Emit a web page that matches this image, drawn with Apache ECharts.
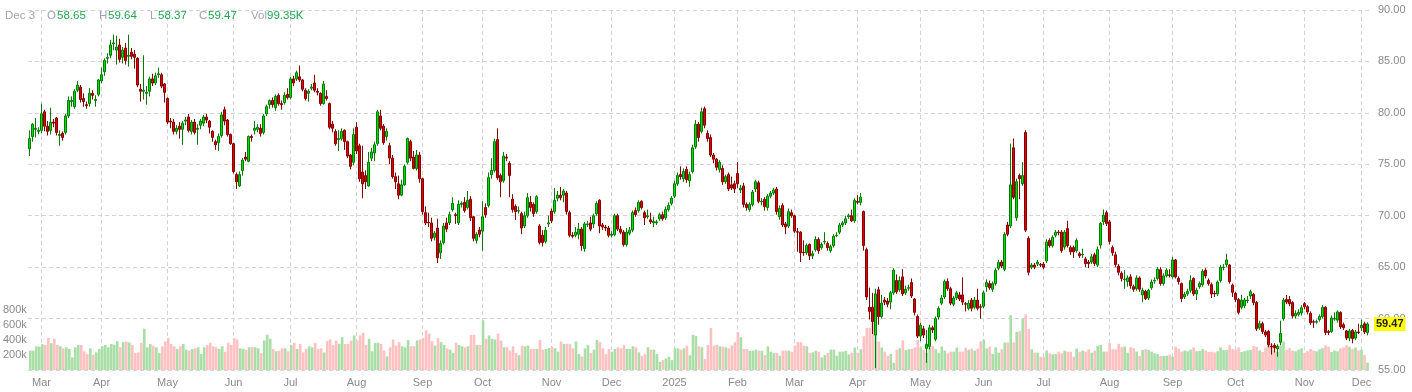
<!DOCTYPE html>
<html>
<head>
<meta charset="utf-8">
<script src="https://cdn.jsdelivr.net/npm/echarts@6/dist/echarts.min.js"></script>
<style>
html,body{margin:0;padding:0;background:#fff;}
#chart{width:1412px;height:392px;}
</style>
</head>
<body>
<div id="chart"></div>
<script>
// ---- categories: trading days (weekdays minus exchange holidays) ----
const START_DATE = '2024-02-26';
const END_DATE = '2025-12-03';
const HOLIDAYS = ['2024-03-29','2024-05-27','2024-06-19','2024-07-04','2024-09-02','2024-11-28','2024-12-25',
  '2025-01-01','2025-01-20','2025-02-17','2025-04-18','2025-05-26','2025-06-19','2025-07-04','2025-09-01','2025-11-27'];
const MONTHS = ['Jan','Feb','Mar','Apr','May','Jun','Jul','Aug','Sep','Oct','Nov','Dec'];
const PRICE_TICKS = {min: 55, max: 90, step: 5};
const VOL_TICKS = {min: 0, max: 800, step: 200}; // thousands

// ---- candles: [open, close, low, high] ----
const candles = [
[76.5,77.5,75.8,78.3],[77.7,78.9,77.2,79.0],[78.4,78.5,77.6,79.5],[78.2,78.3,77.9,78.6],[78.3,79.9,78.0,80.9],
[80.1,78.7,78.2,80.3],[78.7,78.2,77.8,79.2],[78.3,79.1,77.9,80.5],[79.1,79.0,78.6,79.4],[79.5,78.1,77.8,79.6],
[77.8,77.9,76.8,78.3],[78.0,77.6,77.3,78.2],[78.1,79.7,77.9,79.9],[79.7,81.2,79.5,81.6],[81.1,81.2,80.6,81.6],
[80.6,82.1,80.4,82.3],[82.2,82.7,82.0,83.1],[82.5,81.3,81.0,82.7],[81.4,81.1,80.6,81.9],[80.8,80.7,80.4,81.1],
[80.9,81.9,80.6,82.4],[81.9,81.7,81.3,82.2],[81.2,81.3,80.6,81.7],[81.8,83.2,81.6,83.3],[83.1,83.7,82.9,84.4],
[84.0,85.1,83.6,85.3],[85.3,85.4,84.8,85.8],[85.6,86.6,85.3,87.1],[86.7,86.8,86.1,87.6],[86.1,86.4,84.7,87.5],
[86.6,85.2,84.9,87.2],[85.4,86.1,84.8,86.4],[86.3,85.1,84.7,86.8],[85.5,85.6,84.5,87.6],[85.9,85.5,85.2,86.3],
[85.7,85.4,84.3,86.1],[85.3,82.7,82.5,85.4],[82.3,82.1,81.1,82.8],[82.1,82.2,81.3,85.6],[81.9,82.0,80.8,82.6],
[82.1,83.3,81.6,83.5],[83.3,82.9,82.6,83.8],[82.9,83.6,82.7,83.9],[83.7,83.8,83.4,84.4],[83.7,82.6,82.4,83.9],
[82.8,82.0,81.0,82.9],[81.4,79.1,78.9,81.5],[79.2,79.1,78.5,79.5],[79.1,78.2,77.9,79.4],[78.2,78.5,77.9,78.8],
[78.7,78.4,77.5,79.1],[78.4,79.0,76.9,79.2],[79.2,79.3,78.8,79.6],[79.6,78.3,78.1,79.9],[78.2,79.1,77.9,79.3],
[79.1,78.1,77.9,79.4],[78.4,78.5,76.9,78.9],[78.8,79.2,78.4,79.4],[79.0,79.6,78.7,79.8],[79.6,79.3,79.0,79.9],
[79.2,78.6,78.0,79.3],[78.2,77.6,77.2,78.3],[77.2,76.9,76.4,77.4],[77.1,77.7,76.3,78.0],[77.8,79.8,77.6,80.1],
[80.3,79.2,78.8,80.6],[79.3,77.9,77.7,79.4],[77.9,77.0,76.9,78.0],[77.0,74.3,74.1,77.1],[74.0,73.3,72.6,74.2],
[72.9,74.0,72.8,74.3],[74.4,75.4,73.9,75.6],[75.7,75.5,75.3,76.2],[75.3,77.7,75.2,77.8],[77.7,77.6,77.2,77.9],
[78.3,78.5,77.9,79.2],[78.4,78.6,78.1,78.9],[78.5,78.0,77.7,78.9],[78.1,79.7,77.9,79.9],[79.9,80.6,79.7,80.8],
[80.8,81.2,80.4,81.3],[81.2,80.8,80.5,81.5],[80.5,81.6,80.2,81.8],[81.7,80.9,80.7,81.9],[80.9,80.8,80.3,81.2],
[81.0,81.7,80.8,82.0],[81.8,81.5,81.3,82.4],[81.5,83.3,81.3,83.5],[83.3,82.9,82.6,83.6],[83.3,83.9,83.1,84.1],
[83.5,83.2,83.0,84.6],[83.2,82.3,82.1,83.3],[82.2,81.4,81.2,82.4],[81.9,82.1,81.1,82.3],[82.4,82.5,82.2,82.8],
[82.9,82.2,82.0,83.7],[82.1,82.0,81.7,82.4],[81.9,80.9,80.7,82.0],[80.9,82.8,80.8,83.1],[81.6,81.4,81.2,82.2],
[80.9,78.6,78.4,81.0],[78.9,78.5,78.1,79.2],[78.2,77.0,76.8,78.4],[77.4,77.5,76.3,78.3],[77.5,78.2,77.3,78.5],
[78.3,77.2,76.4,78.4],[77.2,75.8,75.6,77.3],[75.9,74.8,74.5,76.0],[75.2,77.9,74.9,78.5],[78.6,76.3,76.0,79.1],
[76.8,73.6,73.3,77.0],[74.25,73.1,71.7,76.8],[73.9,73.3,72.6,74.4],[72.9,75.2,72.8,76.2],[75.6,76.2,75.3,76.6],
[76.1,76.9,75.3,77.2],[77.0,80.1,76.8,80.3],[79.7,78.5,78.3,80.3],[78.7,77.1,76.9,78.9],[77.7,78.2,77.3,78.5],
[76.8,75.6,75.0,77.1],[75.6,73.8,73.6,75.9],[73.8,73.3,72.6,74.2],[73.1,72.0,71.6,73.9],[72.0,73.0,71.9,73.5],
[73.0,74.8,72.9,75.0],[75.2,77.5,75.0,77.6],[77.2,75.6,75.3,77.4],[75.7,74.6,74.5,76.3],[74.6,75.9,74.4,76.4],
[75.9,73.6,73.2,76.2],[73.6,70.4,70.1,73.7],[70.3,69.3,69.1,70.9],[69.35,69.3,68.9,70.3],[69.3,67.8,67.5,69.8],
[67.9,68.3,67.6,68.5],[68.8,65.9,65.4,69.7],[66.4,67.3,65.8,67.6],[67.4,69.0,67.2,69.3],[69.3,68.7,68.4,69.8],
[69.3,70.1,69.1,70.4],[70.6,71.2,70.4,71.8],[70.1,70.0,69.2,70.3],[69.3,71.1,69.1,71.5],[71.1,71.2,70.8,71.4],
[71.3,70.5,70.3,71.8],[70.8,71.5,70.6,72.4],[71.6,69.8,69.5,71.9],[69.9,67.8,67.5,70.0],[67.6,68.2,67.3,68.4],
[68.6,68.2,67.9,68.9],[68.5,69.9,66.6,71.4],[70.8,70.1,69.8,71.2],[71.0,73.7,70.8,74.2],[74.0,74.4,73.6,75.6],
[74.4,77.2,74.2,77.5],[77.4,73.7,73.5,78.5],[73.9,73.3,71.8,74.1],[73.4,75.8,73.2,76.2],[75.7,75.6,75.3,76.0],
[75.1,73.9,71.8,75.3],[71.6,70.6,70.3,72.1],[70.9,70.4,69.6,71.1],[70.45,70.5,70.2,70.9],[70.2,68.8,68.2,70.4],
[69.0,70.0,68.8,70.4],[70.0,71.75,69.8,72.2],[71.3,70.8,70.4,71.9],[71.1,70.2,69.9,71.3],[70.4,71.85,70.2,72.0],
[69.0,67.4,67.2,69.2],[68.1,67.4,67.0,68.6],[67.5,68.6,67.3,68.9],[69.2,69.3,68.9,70.0],[70.45,69.5,69.3,70.7],
[70.4,71.5,70.2,72.7],[71.7,72.0,71.4,72.4],[72.0,71.75,71.5,72.8],[72.0,72.4,71.3,72.6],[72.2,70.4,70.1,72.4],
[70.3,68.1,67.9,70.5],[68.1,68.0,67.8,68.4],[68.1,68.4,67.9,68.9],[68.2,68.7,67.7,69.3],[68.7,67.1,66.6,68.9],
[66.8,69.2,66.5,69.4],[69.15,69.2,68.9,69.5],[69.3,68.7,68.5,69.9],[69.2,70.0,68.8,70.2],[70.2,71.2,70.0,71.4],
[71.5,69.0,68.3,71.6],[69.1,68.9,68.6,69.3],[68.9,68.8,68.5,69.1],[68.8,68.1,67.9,69.0],[68.1,68.2,67.9,68.5],
[68.15,70.0,68.0,70.2],[70.0,68.7,68.5,70.2],[68.7,68.4,68.2,69.0],[68.4,67.2,67.0,68.6],[67.2,68.4,67.0,68.8],
[68.3,68.6,68.1,68.9],[68.6,70.3,68.4,70.5],[70.5,70.1,69.9,70.8],[70.5,71.3,70.3,71.5],[71.4,70.8,70.6,71.5],
[70.3,69.8,69.1,70.5],[69.9,70.0,69.7,70.6],[69.6,69.4,69.2,70.3],[69.3,69.45,68.9,69.9],[69.3,69.4,69.1,69.6],
[69.7,70.1,69.5,70.3],[70.1,69.7,69.5,70.4],[69.8,70.6,69.6,70.9],[70.6,71.0,70.4,71.3],[71.2,71.7,71.0,71.9],
[71.9,73.1,71.7,73.4],[73.1,73.9,72.9,74.2],[74.0,73.8,73.5,74.8],[73.6,74.3,73.3,74.6],[74.5,73.5,73.2,74.8],
[73.4,74.0,72.8,74.3],[74.3,76.6,74.1,76.9],[76.7,78.9,76.5,79.3],[78.9,77.6,77.2,79.1],[78.2,80.1,78.0,80.5],
[80.4,78.8,78.5,80.6],[78.0,77.5,77.2,78.3],[77.6,75.9,75.7,77.9],[75.9,75.5,75.1,76.1],[75.5,74.7,74.4,75.6],
[74.5,75.2,74.2,75.4],[74.6,73.3,73.0,74.9],[73.3,73.8,73.1,74.0],[74.0,72.6,72.4,74.2],[73.0,72.7,72.5,73.8],
[73.1,72.6,72.2,73.4],[74.1,73.1,72.7,75.2],[72.5,72.7,72.2,73.0],[72.9,71.1,70.8,73.2],[71.1,70.8,70.5,71.3],
[70.6,71.1,70.4,71.3],[71.1,72.3,70.9,72.5],[72.6,73.3,72.3,73.5],[73.2,71.4,71.2,73.4],[71.35,71.4,71.0,71.7],
[71.6,70.9,70.5,71.8],[70.8,71.9,70.5,72.1],[71.9,72.2,71.7,72.4],[72.2,72.5,72.0,72.7],[72.6,70.4,70.1,72.8],
[69.9,70.7,69.6,71.0],[71.0,69.1,68.9,71.2],[69.2,68.9,68.2,69.4],[69.0,70.4,68.8,70.7],[70.3,70.0,69.8,70.6],
[70.0,68.5,68.3,70.1],[68.45,68.4,66.5,68.8],[68.4,66.4,65.5,68.5],[66.45,66.4,66.1,67.6],[66.4,67.1,66.2,67.3],
[67.2,66.1,65.7,67.3],[66.1,66.3,65.8,66.6],[66.7,67.7,66.5,68.0],[67.7,66.6,66.3,67.9],[66.9,67.2,66.7,67.4],
[67.45,67.5,67.2,68.4],[67.3,66.9,66.6,67.5],[66.6,67.0,66.4,67.2],[67.1,68.0,66.9,68.2],[68.05,68.1,67.9,68.4],
[68.4,69.1,68.2,69.3],[69.1,69.3,68.9,69.5],[69.3,69.7,69.1,70.0],[69.9,70.0,69.7,70.2],[70.0,69.5,69.4,70.6],
[69.5,71.5,69.3,71.7],[71.4,71.3,71.1,72.0],[71.3,71.8,71.0,72.2],[70.4,67.1,66.6,70.5],[66.7,62.1,61.8,66.9],
[61.1,60.7,59.9,63.0],[61.1,59.7,58.5,62.5],[58.4,62.4,55.2,62.9],[62.8,60.2,59.4,63.1],[60.2,61.5,60.0,62.3],
[61.8,61.6,61.3,62.1],[61.7,61.4,61.1,62.0],[61.6,62.5,60.9,62.7],[62.5,64.7,62.3,64.9],[63.7,62.6,62.4,64.3],
[62.8,63.7,62.6,64.1],[64.05,62.4,62.2,64.8],[62.5,62.85,62.3,63.2],[62.95,63.0,62.7,63.3],[63.5,62.2,62.0,63.9],
[61.9,60.6,60.3,62.0],[60.2,58.3,58.1,60.4],[58.3,59.35,57.8,59.6],[59.0,58.4,58.1,59.3],[57.1,57.5,55.7,58.9],
[57.3,59.1,57.0,59.4],[59.1,58.9,58.6,59.3],[58.0,60.0,57.8,60.2],[60.15,61.0,59.9,61.2],[61.5,62.0,61.3,62.3],
[62.1,63.6,61.9,63.8],[63.6,62.9,62.7,63.9],[62.9,61.5,61.3,63.1],[61.4,62.0,61.2,62.2],[62.0,62.5,61.8,62.7],
[62.3,61.9,61.7,62.6],[62.3,61.6,61.3,64.0],[61.45,61.4,60.7,61.6],[61.0,61.5,60.8,61.8],[61.8,61.0,60.7,62.0],
[61.1,61.8,60.9,62.1],[61.8,61.0,60.8,62.9],[61.15,61.1,60.0,61.4],[61.2,62.5,61.0,62.7],[63.1,63.5,62.6,63.8],
[63.4,63.0,62.8,63.7],[62.85,63.4,62.6,63.6],[63.4,64.7,63.2,64.9],[64.9,65.45,64.7,65.7],[65.5,65.1,64.9,65.7],
[64.8,68.2,64.6,68.4],[69.1,68.2,68.0,69.4],[69.0,73.0,68.8,77.0],[76.6,71.8,71.6,77.5],[69.8,73.3,69.5,73.6],
[73.9,73.6,71.6,74.1],[73.1,73.9,72.9,75.2],[78.1,68.6,68.4,78.3],[67.8,64.5,64.2,68.0],[65.0,65.2,64.8,65.4],
[65.2,65.0,64.8,65.4],[65.3,65.5,65.1,65.7],[65.25,65.2,65.0,65.4],[65.3,65.0,64.8,65.5],[65.6,67.45,65.4,67.7],
[67.6,67.1,66.9,67.8],[67.1,67.9,66.9,68.1],[68.1,68.4,67.9,68.6],[68.4,68.35,68.1,68.6],[68.4,66.6,66.4,68.6],
[66.95,68.4,66.7,68.6],[68.75,67.1,66.9,69.5],[66.9,66.5,66.2,67.1],[66.9,66.5,65.9,67.1],[66.6,67.6,66.4,67.8],
[66.3,66.1,65.9,66.5],[66.2,66.25,65.9,66.8],[65.8,65.35,65.0,66.0],[65.5,65.35,64.9,65.7],[65.5,66.0,65.3,66.3],
[66.2,65.35,65.1,66.4],[65.2,66.7,65.0,67.0],[67.15,69.25,66.8,69.4],[69.4,70.05,69.1,70.6],[70.3,69.25,69.0,70.5],
[69.4,67.5,67.2,69.6],[66.9,66.4,66.1,67.1],[66.2,65.25,65.0,66.5],[65.1,64.5,64.2,65.3],[64.4,63.9,63.6,64.6],
[63.8,63.85,62.9,64.7],[63.6,63.95,63.1,64.2],[64.05,63.2,62.9,64.3],[63.1,62.85,62.6,63.3],[62.9,63.95,62.7,64.2],
[63.95,62.85,62.6,64.1],[62.3,62.75,61.6,63.0],[62.65,61.95,61.8,62.8],[62.0,62.75,61.8,62.9],[63.0,63.55,62.8,63.8],
[63.65,63.7,63.4,64.0],[63.9,64.8,63.7,65.0],[64.75,63.4,63.2,65.0],[63.4,64.15,63.2,64.4],[64.15,64.7,64.0,64.9],
[64.25,64.2,64.0,64.8],[64.05,65.7,63.9,66.0],[65.7,64.05,63.9,65.8],[63.9,63.6,63.3,64.1],[63.4,61.95,61.6,63.5],
[62.1,62.35,61.9,62.6],[62.4,62.65,62.2,62.9],[62.75,63.7,62.5,64.2],[63.9,62.4,62.2,64.0],[62.4,62.75,61.8,63.0],
[63.1,63.4,62.9,63.6],[63.3,64.6,63.1,64.8],[64.7,64.15,63.9,64.9],[63.7,63.4,63.2,63.9],[63.3,62.4,62.0,63.5],
[62.45,62.4,62.1,62.7],[62.4,63.55,62.2,63.7],[63.7,65.0,63.5,65.2],[64.95,65.0,64.7,65.3],[65.25,65.7,65.0,66.3],
[65.2,63.6,63.4,65.3],[63.25,62.55,62.1,63.4],[62.45,61.85,61.6,62.6],[61.85,60.6,60.4,62.0],[61.1,61.8,60.9,62.3],
[61.25,61.8,61.0,62.0],[61.75,61.8,61.5,62.2],[62.2,62.6,61.9,62.8],[62.35,61.55,61.3,62.5],[61.55,59.0,58.8,61.7],
[59.1,59.5,58.9,59.8],[59.5,58.75,58.5,59.7],[58.7,58.4,58.2,58.9],[58.75,57.45,57.2,58.9],[57.3,57.25,56.5,57.6],
[57.4,57.15,56.7,57.6],[57.05,57.3,56.3,57.5],[57.7,58.55,57.4,59.8],[60.0,61.8,59.8,62.0],[61.85,61.6,61.4,62.3],
[61.85,61.45,61.2,62.2],[61.55,60.25,60.0,61.7],[60.25,60.5,60.0,60.8],[60.4,60.6,60.2,60.9],[60.55,61.05,60.3,61.3],
[61.45,61.15,60.9,61.6],[61.15,60.65,60.4,61.3],[60.5,59.6,59.4,60.7],[59.7,59.65,59.1,59.9],[59.65,59.7,59.5,59.9],
[59.9,60.2,59.7,60.4],[60.2,61.1,60.0,61.3],[61.1,58.65,58.4,61.2],[58.75,58.65,58.4,58.9],[58.75,60.05,58.6,60.3],
[59.95,60.0,59.8,60.6],[59.85,60.65,59.6,60.8],[60.6,59.2,59.0,60.7],[59.4,59.1,58.9,59.6],[58.8,58.1,57.9,58.9],
[58.1,58.8,57.8,59.0],[58.85,58.05,57.6,59.0],[58.1,58.7,57.9,58.9],[58.7,58.65,58.5,59.5],[59.1,59.35,58.8,59.9],
[59.5,58.7,58.5,59.7],[58.65,59.47,58.37,59.64]
];

// ---- volume (thousands) ----
const volumes = [
258,258,316,312,344,334,425,357,416,334, 316,289,303,280,167,303,334,334,249,212,
289,203,235,280,316,334,303,348,339,384, 303,371,380,366,334,226,235,362,551,303,
348,325,303,226,316,380,425,348,316,280, 316,348,271,258,280,289,303,212,303,334,
362,316,303,280,316,244,362,334,425,407, 289,280,267,303,303,303,289,226,393,470,
416,280,249,258,289,289,249,334,362,280, 348,235,280,316,303,362,280,289,235,384,
407,334,393,348,438,348,348,393,461,393, 461,497,334,416,249,362,362,348,258,181,
303,407,325,371,316,303,398,316,316,393, 407,425,529,484,384,325,425,371,334,289,
271,226,362,334,316,303,316,470,470,334, 334,
664,416,461,416,407,484,393,303,303,258, 316,226,199,325,316,325,280,280,280,402,
271,280,294,312,289,244,380,348,348,348, 289,380,212,181,289,334,226,271,402,371,
289,212,280,244,280,303,289,334,280,280, 316,303,235,190,212,303,271,271,212,108,
131,154,176,131,289,289,271,289,325,199, 470,452,316,303,145,334,560,325,334,316,
312,303,289,325,371,506,438,280,280,258, 258,271,258,258,199,316,244,226,226,190,
258,258,258,244,325,371,371,325,316,226, 235,258,244,167,199,226,
272,272,190,245,245,254,208,231,300,231, 277,450,560,560,630,560,380,300,245,190,
213,95,268,290,395,268,277,281,300,400, 300,268,231,300,322,277,231,313,259,222,
245,245,300,245,
245,299,268,286,259,286,381,404,286,313, 213,304,231,277,367,367,730,367,508,517,
684,740,548,277,231,231,177,177,259,222, 209,213,245,222,259,245,245,177,286,245,
259,245,277,231,259,322,335,245,245,358, 277,277,349,304,313,231,304,290,245,186,
268,277,268,245,222,213,186,186,191,204, 177,313,286,245,
260,250,270,300,250,255,280,260,240,245, 235,250,300,265,270,330,280,270,300,240,
250,260,270,320,310,260,240,300,330,350, 260,240,320,380,270,290,260,250,270,290,
230,250,280,260,250,275,290,330,310,240, 260,250,290,300,330,310,280,300,260,270,
200,99.35
];

// ---- build trading-day categories ----
function buildDates() {
  const out = [];
  const hol = new Set(HOLIDAYS);
  const d = new Date(START_DATE + 'T00:00:00Z');
  const end = new Date(END_DATE + 'T00:00:00Z');
  while (d <= end) {
    const wd = d.getUTCDay();
    const s = d.toISOString().slice(0, 10);
    if (wd !== 0 && wd !== 6 && !hol.has(s)) out.push(s);
    d.setUTCDate(d.getUTCDate() + 1);
  }
  return out;
}
const dates = buildDates();
const n = Math.min(dates.length, candles.length, volumes.length);
const cats = dates.slice(0, n);
const candleData = candles.slice(0, n);
const volData = volumes.slice(0, n).map((v, i) => ({
  value: v,
  itemStyle: {color: candleData[i][1] >= candleData[i][0] ? '#a9dea7' : '#ffc1c1'}
}));

function isMonthStart(i) {
  if (i === 0) return false;
  return cats[i].slice(0, 7) !== cats[i - 1].slice(0, 7);
}
function monthLabel(val) {
  const m = parseInt(val.slice(5, 7), 10) - 1;
  return m === 0 ? val.slice(0, 4) : MONTHS[m];
}

const last = candleData[n - 1];
const lastDate = cats[n - 1];
const lastVol = volumes[n - 1];
const FONT = '"Liberation Sans", Arial, Helvetica, sans-serif';
const GRAY = '#a0a4ad';
const GREEN = '#1fa64e';

const L = 28, W = 1341;
const chart = echarts.init(document.getElementById('chart'), null, {renderer: 'canvas'});

function hdr(x, text, color) {
  return {type: 'text', left: x, top: 10, z: 100, silent: true,
    style: {text: text, fill: color, font: '11.5px ' + FONT}};
}

chart.setOption({
  animation: false,
  backgroundColor: '#fff',
  textStyle: {fontFamily: FONT},
  grid: [
    {left: L, width: W, top: 10, height: 360},
    {left: L, width: W, top: 310, height: 60}
  ],
  xAxis: [
    {
      type: 'category', gridIndex: 0, data: cats, boundaryGap: true,
      axisLine: {show: false}, axisTick: {show: false},
      axisLabel: {
        interval: (i) => isMonthStart(i),
        formatter: (v) => monthLabel(v),
        color: '#8a8a8a', fontSize: 11, margin: 7
      },
      splitLine: {
        show: true, interval: (i) => isMonthStart(i), alignWithLabel: true,
        lineStyle: {color: '#d4d4d4', type: [4, 3], width: 1}
      }
    },
    {
      type: 'category', gridIndex: 1, data: cats, boundaryGap: true,
      axisLine: {show: false}, axisTick: {show: false}, axisLabel: {show: false}, splitLine: {show: false}
    }
  ],
  yAxis: [
    {
      type: 'value', gridIndex: 0, position: 'right', scale: true,
      min: PRICE_TICKS.min, max: PRICE_TICKS.max, interval: PRICE_TICKS.step,
      axisLine: {show: false}, axisTick: {show: false},
      axisLabel: {formatter: (v) => v.toFixed(2), color: '#8a8a8a', fontSize: 11, margin: 9},
      splitLine: {show: true, lineStyle: {color: '#d4d4d4', type: [4, 3], width: 1}}
    },
    {
      type: 'value', gridIndex: 1, position: 'left',
      min: VOL_TICKS.min, max: VOL_TICKS.max, interval: VOL_TICKS.step,
      axisLine: {show: false}, axisTick: {show: false}, splitLine: {show: false},
      axisLabel: {showMinLabel: false, formatter: (v) => v + 'k', color: '#8a8a8a', fontSize: 11, margin: 2}
    }
  ],
  series: [
    {
      type: 'bar', xAxisIndex: 1, yAxisIndex: 1, data: volData,
      barWidth: '88%', z: 1, silent: true
    },
    {
      type: 'candlestick', xAxisIndex: 0, yAxisIndex: 0, data: candleData,
      barWidth: '78%', z: 3, silent: true,
      itemStyle: {
        color: '#00e000', color0: '#e00000',
        borderColor: '#007a00', borderColor0: '#850000', borderWidth: 1
      },
      markLine: {
        silent: true, symbol: ['none', 'none'], animation: false, z: 10,
        lineStyle: {color: 'rgba(255,255,255,0)', width: 0, type: 'solid'},
        label: {
          show: true, position: 'end', distance: 5,
          formatter: () => last[1].toFixed(2),
          backgroundColor: '#ffff00', color: '#222', fontSize: 11, fontWeight: 'bold',
          padding: [2, 2, 1, 2], fontFamily: FONT
        },
        emphasis: {disabled: true},
        data: [{yAxis: last[1]}]
      }
    }
  ],
  graphic: [
    hdr(5, MONTHS[parseInt(lastDate.slice(5, 7), 10) - 1] + ' ' + parseInt(lastDate.slice(8, 10), 10), GRAY),
    hdr(47, 'O', GRAY), hdr(57, last[0].toFixed(2), GREEN),
    hdr(99, 'H', GRAY), hdr(108, last[3].toFixed(2), GREEN),
    hdr(150, 'L', GRAY), hdr(158, last[2].toFixed(2), GREEN),
    hdr(199, 'C', GRAY), hdr(208, last[1].toFixed(2), GREEN),
    hdr(251, 'Vol', GRAY), hdr(267, lastVol.toFixed(2) + 'K', GREEN)
  ]
});
</script>
</body>
</html>
